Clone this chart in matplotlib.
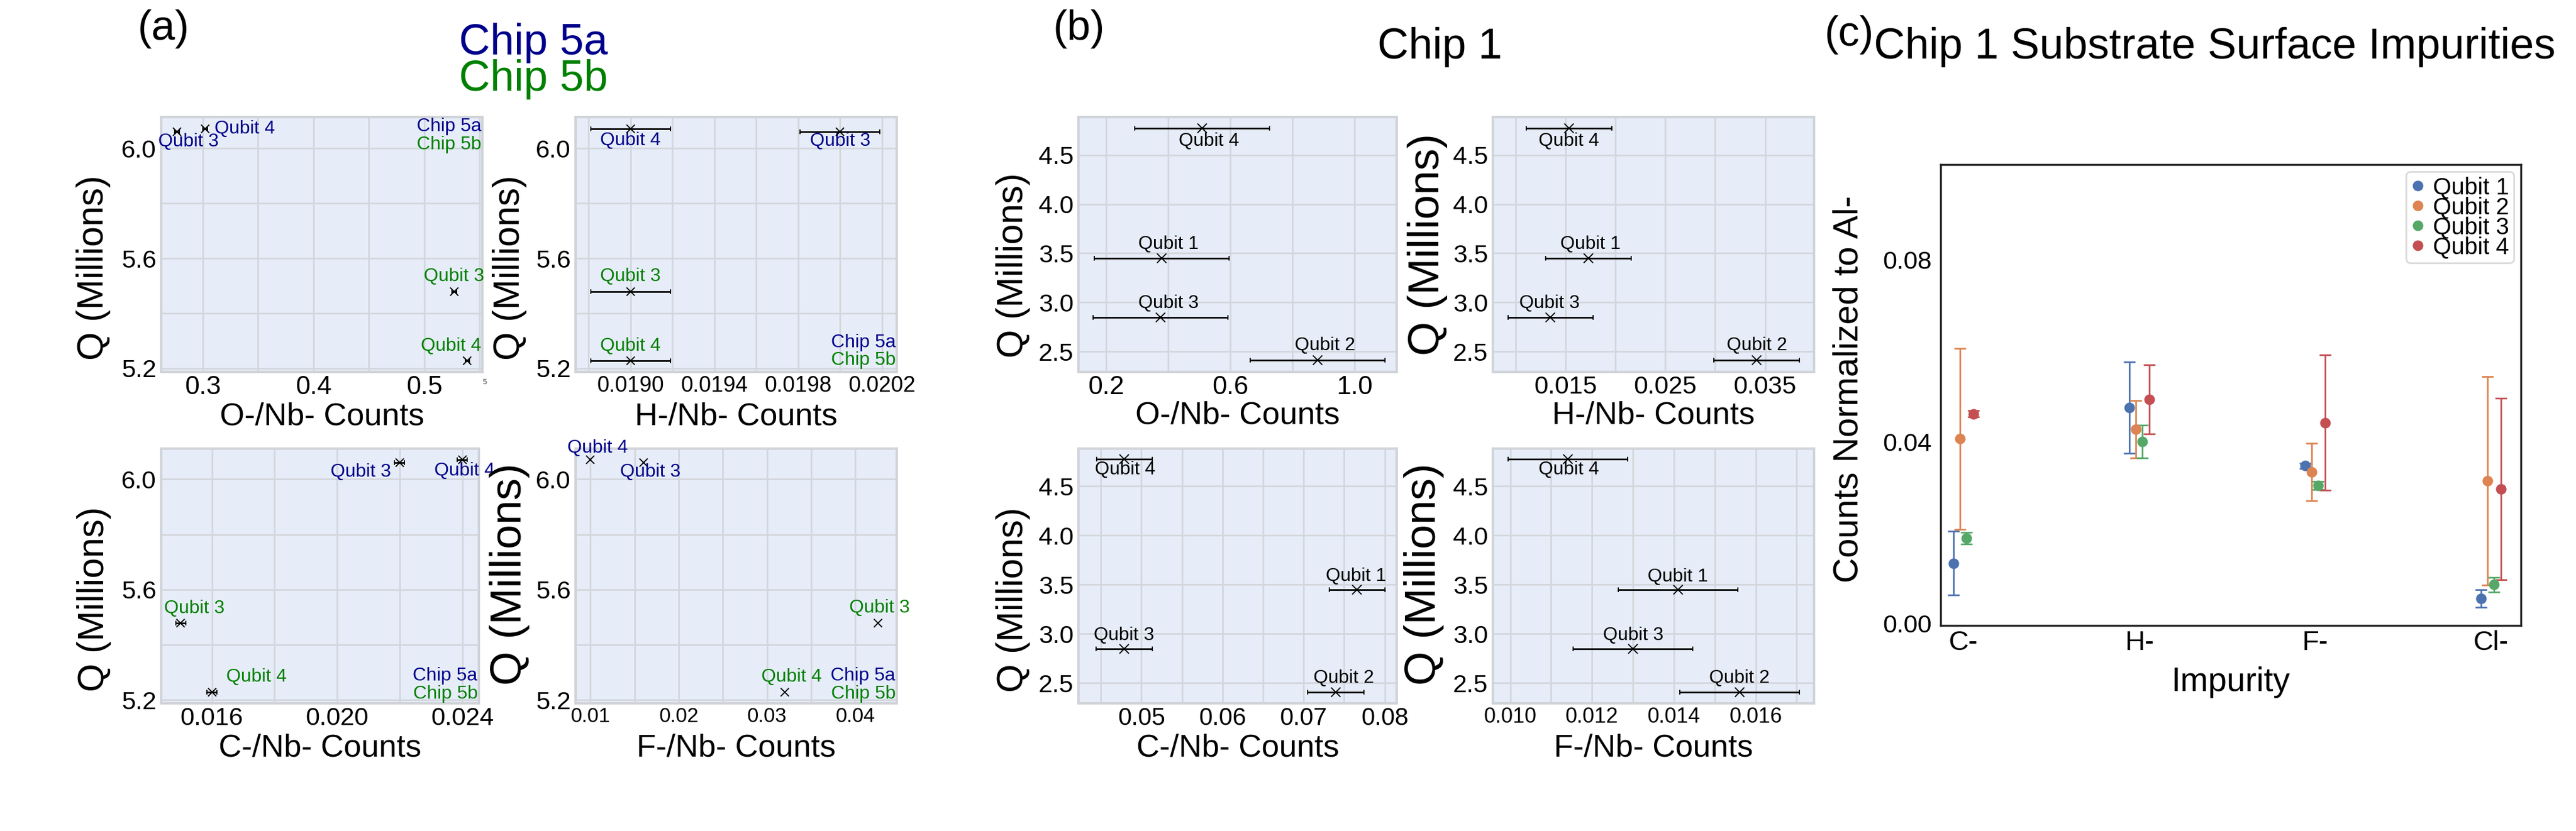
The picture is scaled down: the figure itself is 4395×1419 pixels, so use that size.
import matplotlib
matplotlib.use('Agg')
import matplotlib.pyplot as plt
import numpy as np
from matplotlib.ticker import FormatStrFormatter
from matplotlib.lines import Line2D

plt.rcParams['font.family'] = ['Liberation Sans', 'DejaVu Sans']

W, H = 4395, 1419
fig = plt.figure(figsize=(W / 100, H / 100), dpi=100)

# ------------------------------------------------------------------ data
chip5_qubits = ['Qubit 3', 'Qubit 4']
q_chip5a = [6.061, 6.071]
q_chip5b = [5.479, 5.228]
o_chip5a = [0.2768, 0.3024]
o_chip5b = [0.5270, 0.5388]
h_chip5a = [0.0200, 0.0190]
h_chip5b = [0.0190, 0.0190]
c_chip5a = [0.0220, 0.0240]
c_chip5b = [0.0150, 0.0160]
f_chip5a = [0.0160, 0.0100]
f_chip5b = [0.0426, 0.0320]
o_err5 = 0.002
h_err5 = 0.00019
c_err5 = 0.00016

chip1_qubits = ['Qubit 1', 'Qubit 2', 'Qubit 3', 'Qubit 4']
q_chip1 = [3.447, 2.408, 2.849, 4.774]
o_chip1 = [0.379, 0.881, 0.375, 0.509]
o_err1 = [0.217, 0.217, 0.217, 0.217]
h_chip1 = [0.01731, 0.03416, 0.0135, 0.01536]
h_err1 = [0.00428, 0.00428, 0.00428, 0.00428]
c_chip1 = [0.07658, 0.07397, 0.04787, 0.0479]
c_err1 = [0.00345, 0.00345, 0.00345, 0.00345]
f_chip1 = [0.0141, 0.0156, 0.0130, 0.01141]
f_err1 = [0.00146, 0.00146, 0.00146, 0.00146]

impurities = ['C-', 'H-', 'F-', 'Cl-']
sub_q1 = [0.0133, 0.0475, 0.0347, 0.0055]
sub_q1_err = [0.0070, 0.0100, 0.0006, 0.0019]
sub_q2 = [0.0406, 0.0427, 0.0333, 0.0314]
sub_q2_err = [0.0199, 0.0063, 0.0063, 0.0229]
sub_q3 = [0.0188, 0.0400, 0.0304, 0.0086]
sub_q3_err = [0.0013, 0.0036, 0.0009, 0.0016]
sub_q4 = [0.0461, 0.0493, 0.0442, 0.0296]
sub_q4_err = [0.0007, 0.0076, 0.0149, 0.0199]

# tick values
a_o_ticks = [0.3, 0.4, 0.5]
a_o_grid = [0.3, 0.35, 0.4, 0.45, 0.5, 0.55]
a_h_ticks = [0.0190, 0.0194, 0.0198, 0.0202]
a_h_grid = [0.0188, 0.0190, 0.0192, 0.0194, 0.0196, 0.0198, 0.0200, 0.0202]
a_c_ticks = [0.016, 0.020, 0.024]
a_c_grid = [0.016, 0.018, 0.020, 0.022, 0.024]
a_f_ticks = [0.01, 0.02, 0.03, 0.04]
a_f_grid = [0.01, 0.015, 0.02, 0.025, 0.03, 0.035, 0.04]
a_y_ticks = [5.2, 5.6, 6.0]
a_y_grid = [5.2, 5.4, 5.6, 5.8, 6.0]
b_o_ticks = [0.2, 0.6, 1.0]
b_o_grid = [0.2, 0.4, 0.6, 0.8, 1.0]
b_h_ticks = [0.015, 0.025, 0.035]
b_h_grid = [0.010, 0.015, 0.020, 0.025, 0.030, 0.035]
b_c_ticks = [0.05, 0.06, 0.07, 0.08]
b_c_grid = [0.045, 0.05, 0.055, 0.06, 0.065, 0.07, 0.075, 0.08]
b_f_ticks = [0.010, 0.012, 0.014, 0.016]
b_f_grid = [0.010, 0.011, 0.012, 0.013, 0.014, 0.015, 0.016, 0.017]
b_y_ticks = [2.5, 3.0, 3.5, 4.0, 4.5]
c_y_ticks = [0.00, 0.04, 0.08]

NAVY = '#00008B'
GREEN = '#008000'


def px_axes(l, t, r, b):
    return fig.add_axes([l / W, 1 - b / H, (r - l) / W, (b - t) / H])


def plotly_ax(ax, xlim, ylim, xmaj, xgrid, ymaj, ygrid, xfmt, yfmt, xts, yts=31):
    ax.set_facecolor('#E6EDF8')
    ax.set_xlim(*xlim)
    ax.set_ylim(*ylim)
    ax.set_xticks(xmaj)
    ax.set_xticks(xgrid, minor=True)
    ax.set_yticks(ymaj)
    ax.set_yticks(ygrid, minor=True)
    ax.xaxis.set_major_formatter(FormatStrFormatter(xfmt))
    ax.yaxis.set_major_formatter(FormatStrFormatter(yfmt))
    ax.tick_params(axis='x', which='both', length=0, labelsize=xts, pad=4)
    ax.tick_params(axis='y', which='both', length=0, labelsize=yts, pad=6)
    ax.grid(True, which='both', color='#D3D6DB', lw=2)
    ax.set_axisbelow(True)
    for s in ax.spines.values():
        s.set_color('#D0D3D8')
        s.set_linewidth(3)


def labels(ax, xlabel, yl_x, yl_y, yl_size, xl_y):
    ax.set_xlabel(xlabel, fontsize=39)
    ax.xaxis.label.set_va('center')
    ax.xaxis.set_label_coords(0.5, xl_y)
    ax.set_ylabel('Q (Millions)', fontsize=yl_size)
    ax.yaxis.label.set_va('center')
    ax.yaxis.set_label_coords(yl_x, yl_y)


def chip5_panel(ax, xa, xb, err, offs, chip_pos):
    for xs, qs, col, off in ((xa, q_chip5a, NAVY, offs[0]), (xb, q_chip5b, GREEN, offs[1])):
        if err:
            ax.errorbar(xs, qs, xerr=err, fmt='x', color='black', ms=10, mew=1.4,
                        elinewidth=2, capsize=3, capthick=2, zorder=3)
        else:
            ax.plot(xs, qs, 'x', color='black', ms=10, mew=1.4, zorder=3)
        for x, q, name, (dx, dy, ha) in zip(xs, qs, chip5_qubits, off):
            ax.annotate(name, (x, q), xytext=(dx, dy), textcoords='offset pixels',
                        ha=ha, va='center', fontsize=23, color=col,
                        annotation_clip=False)
    (x0, y0), (x1, y1) = chip_pos
    ax.text(x0, y0, 'Chip 5a', transform=ax.transAxes, ha='right', va='center',
            fontsize=23, color=NAVY)
    ax.text(x1, y1, 'Chip 5b', transform=ax.transAxes, ha='right', va='center',
            fontsize=23, color=GREEN)


def chip1_panel(ax, xs, errs, offs):
    ax.errorbar(xs, q_chip1, xerr=errs, fmt='x', color='black', ms=11, mew=1.4,
                elinewidth=2, capsize=3, capthick=2, zorder=3)
    for x, q, name, (dx, dy) in zip(xs, q_chip1, chip1_qubits, offs):
        ax.annotate(name, (x, q), xytext=(dx, dy), textcoords='offset pixels',
                    ha='center', va='center', fontsize=23, color='black',
                    annotation_clip=False)


# ------------------------------------------------------------------ panel (a)
ax = px_axes(275, 200, 823, 635)
plotly_ax(ax, (0.2626, 0.5524), (5.187, 6.114), a_o_ticks, a_o_grid,
          a_y_ticks, a_y_grid, '%.1f', '%.1f', 32)
chip5_panel(ax, o_chip5a, o_chip5b, o_err5,
            [[(20, -17, 'center'), (16, 0, 'left')],
             [(0, 26, 'center'), (-28, 25, 'center')]],
            [(0.997, 0.963), (0.997, 0.893)])
labels(ax, 'O-/Nb- Counts', -0.21, 0.41, 45, -0.176)

ax = px_axes(982, 200, 1530, 635)
plotly_ax(ax, (0.018738, 0.020271), (5.187, 6.114), a_h_ticks, a_h_grid,
          a_y_ticks, a_y_grid, '%.4f', '%.1f', 27)
chip5_panel(ax, h_chip5a, h_chip5b, h_err5,
            [[(0, -16, 'center'), (0, -20, 'center')],
             [(0, 26, 'center'), (0, 25, 'center')]],
            [(0.997, 0.116), (0.997, 0.045)])
labels(ax, 'H-/Nb- Counts', -0.205, 0.41, 45, -0.176)

ax = px_axes(275, 766, 817, 1201)
plotly_ax(ax, (0.01438, 0.02453), (5.188, 6.111), a_c_ticks, a_c_grid,
          a_y_ticks, a_y_grid, '%.3f', '%.1f', 31)
chip5_panel(ax, c_chip5a, c_chip5b, c_err5,
            [[(-15, -16, 'right'), (4, -19, 'center')],
             [(23, 25, 'center'), (24, 26, 'left')]],
            [(0.996, 0.108), (0.996, 0.037)])
labels(ax, 'C-/Nb- Counts', -0.212, 0.41, 45, -0.175)

ax = px_axes(982, 766, 1530, 1201)
plotly_ax(ax, (0.008315, 0.044693), (5.188, 6.111), a_f_ticks, a_f_grid,
          a_y_ticks, a_y_grid, '%.2f', '%.1f', 25)
chip5_panel(ax, f_chip5a, f_chip5b, None,
            [[(12, -16, 'center'), (12, 20, 'center')],
             [(2, 26, 'center'), (12, 26, 'center')]],
            [(0.996, 0.108), (0.996, 0.037)])
labels(ax, 'F-/Nb- Counts', -0.206, 0.506, 54, -0.175)

# ------------------------------------------------------------------ panel (b)
ax = px_axes(1840, 200, 2383, 635)
plotly_ax(ax, (0.1105, 1.1357), (2.2915, 4.887), b_o_ticks, b_o_grid,
          b_y_ticks, b_y_ticks, '%.1f', '%.1f', 32)
chip1_panel(ax, o_chip1, o_err1, [(11, 24), (13, 25), (13, 24), (12, -22)])
labels(ax, 'O-/Nb- Counts', -0.206, 0.4185, 45, -0.172)

ax = px_axes(2547, 200, 3095, 635)
plotly_ax(ax, (0.00772, 0.0399), (2.2915, 4.887), b_h_ticks, b_h_grid,
          b_y_ticks, b_y_ticks, '%.3f', '%.1f', 31)
chip1_panel(ax, h_chip1, h_err1, [(3, 24), (0, 25), (-2, 24), (0, -22)])
labels(ax, 'H-/Nb- Counts', -0.204, 0.5, 54, -0.172)

ax = px_axes(1840, 766, 2383, 1201)
plotly_ax(ax, (0.04224, 0.08147), (2.293, 4.883), b_c_ticks, b_c_grid,
          b_y_ticks, b_y_ticks, '%.2f', '%.1f', 30)
chip1_panel(ax, c_chip1, c_err1, [(-2, 23), (13, 24), (0, 23), (1, -18)])
labels(ax, 'C-/Nb- Counts', -0.206, 0.407, 45, -0.175)

ax = px_axes(2547, 766, 3095, 1201)
plotly_ax(ax, (0.009577, 0.017423), (2.293, 4.883), b_f_ticks, b_f_grid,
          b_y_ticks, b_y_ticks, '%.3f', '%.1f', 26)
chip1_panel(ax, f_chip1, f_err1, [(0, 22), (0, 24), (0, 23), (2, -18)])
labels(ax, 'F-/Nb- Counts', -0.215, 0.506, 54, -0.175)

# ------------------------------------------------------------------ panel (c)
ax = px_axes(3311, 281, 4301, 1068)
colors = ['#4C72B0', '#DD8452', '#55A868', '#C44E52']
series = [(sub_q1, sub_q1_err), (sub_q2, sub_q2_err), (sub_q3, sub_q3_err), (sub_q4, sub_q4_err)]
xpos = np.arange(len(impurities))
dodge = 0.0377
handles = []
for i, ((vals, errs), col, name) in enumerate(zip(series, colors, chip1_qubits)):
    ax.errorbar(xpos + (i - 1.5) * dodge, vals, yerr=errs, fmt='o', color=col,
                ms=12, elinewidth=2, capsize=7, capthick=2)
    handles.append(Line2D([], [], marker='o', ls='', color=col, ms=12, label=name))
ax.set_xlim(-0.1286, 3.1706)
ax.set_ylim(-0.0004, 0.1009)
ax.set_xticks(xpos)
ax.set_xticklabels(impurities)
ax.set_yticks(c_y_ticks)
ax.yaxis.set_major_formatter(FormatStrFormatter('%.2f'))
ax.tick_params(axis='x', length=0, labelsize=34, pad=6)
ax.tick_params(axis='y', length=0, labelsize=31, pad=11)
for s in ax.spines.values():
    s.set_color('#262626')
    s.set_linewidth(2.5)
ax.set_xlabel('Impurity', fontsize=41)
ax.xaxis.label.set_va('center')
ax.xaxis.set_label_coords(0.5, -0.123)
ax.set_ylabel('Counts Normalized to Al-', fontsize=43)
ax.yaxis.label.set_va('center')
ax.yaxis.set_label_coords(-0.159, 0.513)
leg = ax.legend(handles=handles, loc='upper right', fontsize=29, labelspacing=-0.1,
                borderpad=0.2, handlelength=0.6, handletextpad=0.35,
                borderaxespad=0.3, frameon=True, fancybox=True)
leg.get_frame().set_edgecolor('#D0D0D0')
leg.get_frame().set_linewidth(2)

# ------------------------------------------------------------------ titles
fig.text(279 / W, 1 - 68 / H, '(a)', fontsize=52, ha='center', va='baseline')
fig.text(910 / W, 1 - 93 / H, 'Chip 5a', fontsize=53, ha='center', va='baseline', color=NAVY)
fig.text(910 / W, 1 - 155 / H, 'Chip 5b', fontsize=53, ha='center', va='baseline', color=GREEN)
fig.text(1841 / W, 1 - 68 / H, '(b)', fontsize=52, ha='center', va='baseline')
fig.text(2457 / W, 1 - 100 / H, 'Chip 1', fontsize=53, ha='center', va='baseline')
fig.text(3155 / W, 1 - 78 / H, '(c)', fontsize=52, ha='center', va='baseline')
fig.text(3197 / W, 1 - 100 / H, 'Chip 1 Substrate Surface Impurities', fontsize=53,
         ha='left', va='baseline')
fig.text(827 / W, 1 - 653 / H, '5', fontsize=9, ha='center', va='center', color='#444444')

fig.savefig('out.png', dpi=100, facecolor='white')
